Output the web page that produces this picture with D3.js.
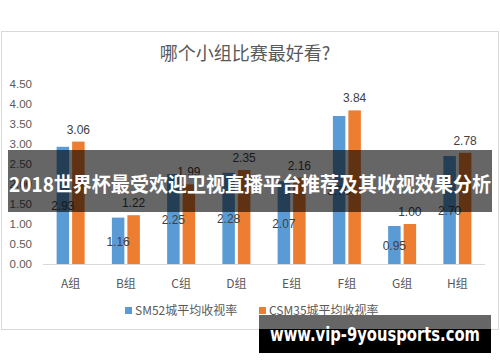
<!DOCTYPE html>
<html>
<head>
<meta charset="utf-8">
<script src="https://cdn.jsdelivr.net/npm/d3@7"></script>
<style>
  html, body { margin: 0; padding: 0; background: #fff; }
  svg { display: block; font-family: "Noto Sans CJK SC", "Noto Sans", sans-serif; }
</style>
</head>
<body>
<div id="chart"></div>
<script>
// data
const groups = ["A组", "B组", "C组", "D组", "E组", "F组", "G组", "H组"];
const sm52 = [2.93, 1.16, 2.25, 2.28, 2.07, 3.70, 0.95, 2.70];
const csm35 = [3.06, 1.22, 1.99, 2.35, 2.16, 3.84, 1.00, 2.78];
const seriesNames = ["SM52城平均收视率", "CSM35城平均收视率"];
const yTicks = [0, 0.5, 1, 1.5, 2, 2.5, 3, 3.5, 4, 4.5];

const W = 500, H = 362;
const blue = "#5B9BD5", orange = "#ED7D31", grey = "#595959";

const svg = d3.select("#chart").append("svg")
    .attr("width", W)
    .attr("height", H);

// chart frame
svg.append("rect")
    .attr("x", 1.5).attr("y", 31.5)
    .attr("width", 497).attr("height", 298)
    .attr("fill", "#fff")
    .attr("stroke", "#d9d9d9");

svg.append("text")
    .attr("x", 245).attr("y", 60)
    .attr("text-anchor", "middle")
    .attr("fill", grey)
    .style("font-size", "18px")
    .text("哪个小组比赛最好看?");

const x = d3.scaleBand().domain(groups).range([43, 485]);
const y = d3.scaleLinear().domain([0, 4.5]).range([264, 84]);

// y tick labels
svg.append("g")
    .selectAll("text")
    .data(yTicks)
    .enter()
    .append("text")
      .attr("x", 32)
      .attr("y", d => y(d) + 4)
      .attr("text-anchor", "end")
      .attr("fill", grey)
      .style("font-size", "11.5px")
      .style("font-family", "Liberation Sans, Arial, sans-serif")
      .text(d => d.toFixed(2));

// baseline
svg.append("line")
    .attr("x1", 43).attr("x2", 485)
    .attr("y1", y(0) + 0.5).attr("y2", y(0) + 0.5)
    .attr("stroke", "#d9d9d9");

const barW = 12.5, gap = 3;
const xb = (g) => x(g) + x.bandwidth() / 2 - gap / 2 - barW;
const xo = (g) => x(g) + x.bandwidth() / 2 + gap / 2;

const blueData = groups.map((g, i) => ({ g, v: sm52[i] }));
const orangeData = groups.map((g, i) => ({ g, v: csm35[i] }));

svg.append("g").selectAll("rect")
    .data(blueData).enter().append("rect")
      .attr("x", d => xb(d.g))
      .attr("y", d => y(d.v))
      .attr("width", barW)
      .attr("height", d => y(0) - y(d.v))
      .attr("fill", blue);

svg.append("g").selectAll("rect")
    .data(orangeData).enter().append("rect")
      .attr("x", d => xo(d.g))
      .attr("y", d => y(d.v))
      .attr("width", barW)
      .attr("height", d => y(0) - y(d.v))
      .attr("fill", orange);

// value labels: blue centred in bar, orange above bar
svg.append("g").selectAll("text")
    .data(blueData).enter().append("text")
      .attr("x", d => xb(d.g) + barW / 2)
      .attr("y", d => (y(d.v) + y(0)) / 2 + 5)
      .attr("text-anchor", "middle")
      .attr("fill", "#404040")
      .style("font-size", "12px")
      .style("font-family", "Liberation Sans, Arial, sans-serif")
      .text(d => d.v.toFixed(2));

svg.append("g").selectAll("text")
    .data(orangeData).enter().append("text")
      .attr("x", d => xo(d.g) + barW / 2)
      .attr("y", d => y(d.v) - 8)
      .attr("text-anchor", "middle")
      .attr("fill", "#404040")
      .style("font-size", "12px")
      .style("font-family", "Liberation Sans, Arial, sans-serif")
      .text(d => d.v.toFixed(2));

// category labels
svg.append("g").selectAll("text")
    .data(groups).enter().append("text")
      .attr("x", d => x(d) + x.bandwidth() / 2)
      .attr("y", 288)
      .attr("text-anchor", "middle")
      .attr("fill", grey)
      .style("font-size", "12px")
      .text(d => d);

// legend
const legend = [
    { name: seriesNames[0], color: blue, x: 125 },
    { name: seriesNames[1], color: orange, x: 259 }
];
legend.forEach(l => {
    svg.append("rect")
        .attr("x", l.x).attr("y", 307)
        .attr("width", 7).attr("height", 7)
        .attr("fill", l.color);
    svg.append("text")
        .attr("x", l.x + 10).attr("y", 315)
        .attr("fill", grey)
        .style("font-size", "12px")
        .text(l.name);
});

// banner overlay
svg.append("rect")
    .attr("x", 8).attr("y", 150)
    .attr("width", 484).attr("height", 62)
    .attr("fill", "rgba(0,0,0,0.6)");
svg.append("text")
    .attr("x", 250).attr("y", 192)
    .attr("text-anchor", "middle")
    .attr("fill", "#fff")
    .style("font-size", "20px")
    .style("font-weight", "bold")
    .attr("textLength", 482)
    .attr("lengthAdjust", "spacingAndGlyphs")
    .text("2018世界杯最受欢迎卫视直播平台推荐及其收视效果分析");

// watermark
svg.append("rect")
    .attr("x", 259).attr("y", 315)
    .attr("width", 232).attr("height", 15)
    .attr("fill", "#666");
svg.append("rect")
    .attr("x", 259).attr("y", 329)
    .attr("width", 232).attr("height", 24)
    .attr("fill", "#000");
svg.append("text")
    .attr("x", 375).attr("y", 341)
    .attr("text-anchor", "middle")
    .attr("fill", "#fff")
    .style("font-size", "19px")
    .style("font-weight", "bold")
    .style("font-family", "DejaVu Sans, sans-serif")
    .attr("textLength", 210)
    .attr("lengthAdjust", "spacingAndGlyphs")
    .text("www.vip-9yousports.com");
</script>
</body>
</html>
